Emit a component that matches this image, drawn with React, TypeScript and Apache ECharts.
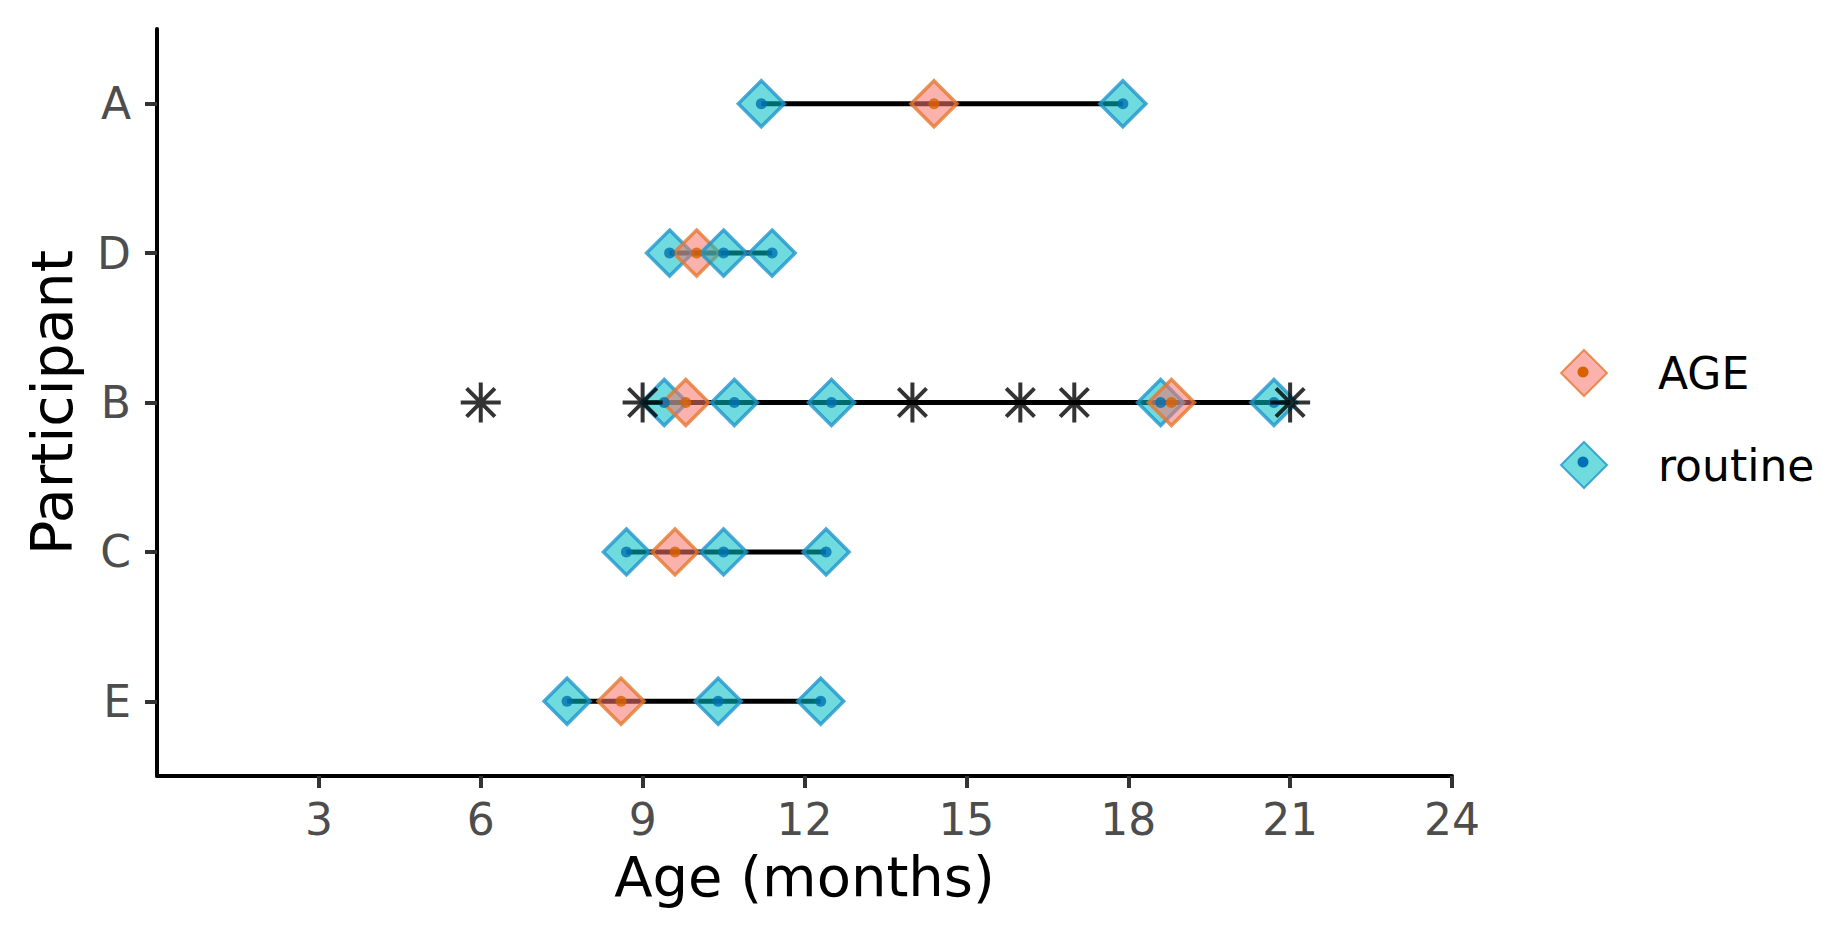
import React, { useEffect, useRef } from "react";
import * as echarts from "echarts";

// Participants (top to bottom)
const participants = ["A", "D", "B", "C", "E"];
// Connecting line extent per participant
const lineStart = [11.2, 9.5, 9.0, 8.7, 7.6];
const lineEnd = [17.9, 11.4, 21.0, 12.4, 12.3];
// AGE points: [participant, age]
const agePoints: [string, number][] = [
  ["A", 14.4],
  ["D", 10.0],
  ["B", 9.8],
  ["B", 18.8],
  ["C", 9.6],
  ["E", 8.6],
];
// routine points
const routinePoints: [string, number][] = [
  ["A", 11.2], ["A", 17.9],
  ["D", 9.5], ["D", 10.5], ["D", 11.4],
  ["B", 9.4], ["B", 10.7], ["B", 12.5], ["B", 18.6], ["B", 20.7],
  ["C", 8.7], ["C", 10.5], ["C", 12.4],
  ["E", 7.6], ["E", 10.4], ["E", 12.3],
];
// asterisk marks
const starPoints: [string, number][] = [
  ["B", 6], ["B", 9], ["B", 14], ["B", 16], ["B", 17], ["B", 21],
];
const xTicks = [3, 6, 9, 12, 15, 18, 21, 24];

const FONT = "DejaVu Sans";
const AGE_FILL = "rgba(248,118,109,0.7)";
const AGE_BORDER = "#E5782F";
const AGE_DOT = "#D96200";
const RT_FILL = "rgba(0,191,196,0.7)";
const RT_BORDER = "#1F95CC";
const RT_DOT = "#0072B2";

export default function App() {
  const ref = useRef<HTMLDivElement>(null);
  useEffect(() => {
    document.body.style.margin = "0";
    if (!ref.current) return;
    const chart = echarts.init(ref.current, null, { renderer: "svg" });

    const combined = [
      ...agePoints.map((p) => ({ p: p[0], x: p[1], t: "AGE" })),
      ...routinePoints.map((p) => ({ p: p[0], x: p[1], t: "routine" })),
    ].sort((a, b) => a.x - b.x);

    const diamondData = combined.map((d) => ({
      value: [d.x, d.p],
      itemStyle:
        d.t === "AGE"
          ? { color: AGE_FILL, borderColor: AGE_BORDER }
          : { color: RT_FILL, borderColor: RT_BORDER },
    }));
    const dotData = combined.map((d) => ({
      value: [d.x, d.p],
      itemStyle: { color: d.t === "AGE" ? AGE_DOT : RT_DOT },
    }));

    const lineData = participants.map((p, i) => [lineStart[i], lineEnd[i], i]);

    const option: any = {
      animation: false,
      backgroundColor: "#ffffff",
      textStyle: { fontFamily: FONT },
      grid: { left: 157, right: 384, top: 29, bottom: 149, containLabel: false },
      legend: {
        data: ["AGE", "routine"],
        orient: "vertical",
        left: 1560,
        top: 349,
        padding: 0,
        itemWidth: 46,
        itemHeight: 46,
        itemGap: 44,
        selectedMode: false,
        textStyle: {
          fontFamily: FONT,
          fontSize: 44,
          color: "#000",
          lineHeight: 46,
          padding: [0, 0, 0, 46],
        },
      },
      xAxis: {
        type: "value",
        min: 0,
        max: 24,
        interval: 3,
        splitLine: { show: false },
        axisLine: { show: true, onZero: false, lineStyle: { color: "#000", width: 4 } },
        axisTick: { show: true, length: 12, customValues: xTicks, lineStyle: { color: "#333", width: 4 } },
        axisLabel: {
          customValues: xTicks,
          fontFamily: FONT,
          fontSize: 44,
          color: "#4D4D4D",
          margin: 21,
        },
        name: "Age (months)",
        nameLocation: "middle",
        nameGap: 72,
        nameTextStyle: { fontFamily: FONT, fontSize: 56, color: "#000" },
      },
      yAxis: {
        type: "category",
        data: participants,
        inverse: true,
        boundaryGap: true,
        splitLine: { show: false },
        axisLine: { show: true, lineStyle: { color: "#000", width: 4 } },
        axisTick: { show: true, length: 12, alignWithLabel: true, lineStyle: { color: "#333", width: 4 } },
        axisLabel: { fontFamily: FONT, fontSize: 44, color: "#4D4D4D", margin: 26 },
        name: "Participant",
        nameLocation: "middle",
        nameGap: 77,
        nameRotate: 90,
        nameTextStyle: { fontFamily: FONT, fontSize: 57, color: "#000" },
      },
      series: [
        {
          type: "custom",
          name: "lines",
          data: lineData,
          encode: { x: [0, 1], y: 2 },
          silent: true,
          renderItem: (params: any, api: any) => {
            const a = api.coord([api.value(0), api.value(2)]);
            const b = api.coord([api.value(1), api.value(2)]);
            return {
              type: "line",
              shape: { x1: a[0], y1: a[1], x2: b[0], y2: b[1] },
              style: { stroke: "#000", lineWidth: 5 },
            };
          },
          z: 1,
        },
        {
          type: "scatter",
          name: "AGE",
          data: [],
          symbol: "diamond",
          symbolSize: 46,
          itemStyle: { color: AGE_FILL, borderColor: AGE_BORDER, borderWidth: 3.5 },
        },
        {
          type: "scatter",
          name: "routine",
          data: [],
          symbol: "diamond",
          symbolSize: 46,
          itemStyle: { color: RT_FILL, borderColor: RT_BORDER, borderWidth: 3.5 },
        },
        {
          type: "scatter",
          name: "points",
          data: diamondData,
          symbol: "diamond",
          symbolSize: 46,
          itemStyle: { borderWidth: 3.5 },
          z: 2,
        },
        {
          type: "scatter",
          name: "dots",
          data: dotData,
          symbol: "circle",
          symbolSize: 11,
          z: 3,
        },
        {
          type: "scatter",
          name: "stars",
          data: starPoints.map((s) => [s[1], s[0]]),
          symbol:
            "path://M10,0L10,20M0,10L20,10M2.93,2.93L17.07,17.07M2.93,17.07L17.07,2.93",
          symbolSize: 40,
          itemStyle: { color: "none", borderColor: "#000", borderWidth: 4 },
          z: 4,
        },
      ],
      graphic: [
        { type: "circle", shape: { cx: 1583, cy: 372, r: 5.5 }, style: { fill: AGE_DOT }, z: 100 },
        { type: "circle", shape: { cx: 1583, cy: 462, r: 5.5 }, style: { fill: RT_DOT }, z: 100 },
      ],
    };
    chart.setOption(option);
    return () => chart.dispose();
  }, []);
  return <div ref={ref} style={{ width: 1836, height: 925 }} />;
}
